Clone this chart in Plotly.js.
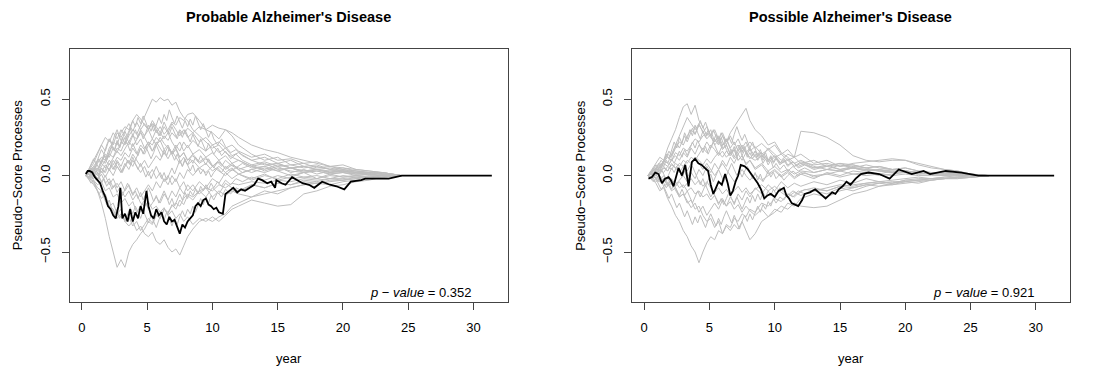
<!DOCTYPE html>
<html>
<head>
<meta charset="utf-8">
<script src="https://cdn.plot.ly/plotly-3.0.1.min.js"></script>
<style>html,body{margin:0;padding:0;background:#fff;}#chart{width:1093px;height:372px;}</style>
</head>
<body>
<div id="chart"></div>
<script>
// ---------- DATA ----------
const panelTitles = ["Probable Alzheimer's Disease", "Possible Alzheimer's Disease"];
const pValueLabels = ["0.352", "0.921"];
const xTickVals = [0, 5, 10, 15, 20, 25, 30];
const yTickVals = [-0.5, 0.0, 0.5];

// Probable AD: time grid of simulated (gray) processes
const probGrayX = [0.3,0.6,0.9,1.2,1.5,1.8,2.1,2.4,2.7,3.0,3.3,3.6,3.9,4.2,4.5,4.8,5.1,5.4,5.7,6.0,6.3,6.6,6.9,7.2,7.5,7.8,8.1,8.5,9.0,9.5,10,10.5,11,11.5,12,13,14,15,16,17,18,19,20,21,22,23,24.5];
const probGray = [
[0,0.03,0.06,0.1,0.08,0.14,0.12,0.18,0.15,0.22,0.2,0.26,0.3,0.27,0.33,0.38,0.44,0.5,0.48,0.51,0.49,0.5,0.46,0.48,0.42,0.38,0.36,0.3,0.26,0.22,0.18,0.2,0.15,0.12,0.1,0.06,0.08,0.04,0.05,0.03,0.04,0.02,0.03,0.02,0.01,0.02,0],
[0,-0.02,-0.05,-0.1,-0.18,-0.28,-0.4,-0.5,-0.6,-0.55,-0.6,-0.5,-0.45,-0.42,-0.38,-0.35,-0.3,-0.32,-0.26,-0.28,-0.22,-0.24,-0.2,-0.18,-0.2,-0.15,-0.12,-0.14,-0.1,-0.08,-0.1,-0.06,-0.08,-0.05,-0.06,-0.04,-0.05,-0.03,-0.04,-0.02,-0.03,-0.02,-0.02,-0.01,-0.01,0,0],
[0,-0.01,-0.04,-0.08,-0.1,-0.15,-0.2,-0.22,-0.28,-0.25,-0.3,-0.33,-0.3,-0.36,-0.33,-0.38,-0.4,-0.37,-0.43,-0.45,-0.42,-0.47,-0.5,-0.48,-0.52,-0.46,-0.4,-0.35,-0.3,-0.28,-0.3,-0.27,-0.25,-0.2,-0.18,-0.14,-0.12,-0.1,-0.08,-0.06,-0.05,-0.04,-0.03,-0.02,-0.01,-0.01,0],
[0,0.02,0,-0.03,0.01,-0.05,-0.02,-0.08,-0.05,-0.1,-0.14,-0.1,-0.16,-0.12,-0.18,-0.2,-0.17,-0.22,-0.2,-0.24,-0.21,-0.26,-0.23,-0.28,-0.25,-0.3,-0.27,-0.32,-0.28,-0.3,-0.27,-0.3,-0.26,-0.22,-0.2,-0.16,-0.18,-0.2,-0.19,-0.12,-0.1,-0.07,-0.06,-0.04,-0.03,-0.01,0],
[0,0.04,0.02,0.08,0.12,0.1,0.18,0.22,0.2,0.28,0.32,0.3,0.36,0.4,0.37,0.33,0.3,0.34,0.28,0.32,0.27,0.3,0.35,0.33,0.38,0.36,0.4,0.41,0.36,0.3,0.28,0.24,0.3,0.26,0.2,0.14,0.1,0.12,0.07,0.08,0.05,0.06,0.04,0.03,0.02,0.02,0],
[0,0.02,0.05,0.03,0.08,0.05,0.1,0.07,0.12,0.1,0.15,0.12,0.18,0.14,0.2,0.17,0.22,0.2,0.25,0.22,0.26,0.23,0.28,0.25,0.3,0.27,0.31,0.28,0.32,0.3,0.33,0.31,0.3,0.28,0.25,0.2,0.17,0.15,0.12,0.1,0.08,0.06,0.05,0.04,0.03,0.02,0],
[0,0.05,0.1,0.15,0.2,0.25,0.22,0.28,0.24,0.3,0.26,0.22,0.27,0.2,0.24,0.18,0.22,0.16,0.2,0.25,0.21,0.18,0.14,0.17,0.12,0.15,0.1,0.13,0.08,0.11,0.06,0.09,0.05,0.08,0.04,0.07,0.03,0.06,0.02,0.04,0.01,0.03,0.02,0.01,0.02,0.01,0],
[0,-0.02,0.03,0,0.05,0.02,0.08,0.04,0.1,0.06,0.12,0.08,0.14,0.1,0.06,0.1,0.05,0.09,0.13,0.1,0.15,0.11,0.16,0.12,0.08,0.12,0.07,0.1,0.05,0.08,0.03,0.06,0.02,0.05,0.01,0.04,0.06,0.03,0.05,0.02,0.04,0.02,0.03,0.01,0.02,0.01,0],
[0,0.01,-0.02,0.02,-0.04,0,-0.06,-0.02,-0.08,-0.04,-0.1,-0.06,-0.12,-0.08,-0.14,-0.1,-0.06,-0.1,-0.04,-0.08,-0.02,-0.06,0,-0.04,0.02,-0.02,0.04,0,0.05,0.02,0.06,0.03,0,0.04,0.01,-0.02,0.01,-0.03,-0.01,0.02,-0.02,0.01,-0.01,0,0.01,0,0],
[0,0.04,0.08,0.14,0.2,0.16,0.24,0.2,0.28,0.25,0.3,0.34,0.29,0.35,0.3,0.26,0.3,0.24,0.2,0.23,0.17,0.2,0.14,0.18,0.12,0.15,0.1,0.14,0.09,0.12,0.06,0.1,0.04,0.07,0.05,0.02,0.05,0.03,0,0.02,0.03,0.01,0.02,0,0.01,0,0],
[0,-0.03,-0.06,-0.1,-0.15,-0.12,-0.2,-0.18,-0.25,-0.22,-0.3,-0.27,-0.33,-0.3,-0.36,-0.32,-0.28,-0.31,-0.25,-0.28,-0.22,-0.25,-0.19,-0.22,-0.16,-0.19,-0.13,-0.16,-0.1,-0.14,-0.08,-0.12,-0.05,-0.08,-0.1,-0.06,-0.08,-0.05,-0.06,-0.03,-0.04,-0.02,-0.03,-0.01,-0.02,0,0],
[0,0.02,0.06,0.04,0.1,0.08,0.14,0.12,0.18,0.16,0.22,0.2,0.26,0.24,0.3,0.34,0.3,0.36,0.32,0.28,0.24,0.28,0.22,0.18,0.22,0.16,0.2,0.14,0.17,0.12,0.15,0.1,0.13,0.08,0.1,0.06,0.04,0.07,0.05,0.03,0.04,0.02,0.03,0.02,0.01,0.01,0],
[0,0.01,-0.03,-0.06,-0.04,-0.1,-0.08,-0.14,-0.12,-0.18,-0.15,-0.2,-0.17,-0.24,-0.2,-0.16,-0.22,-0.18,-0.14,-0.18,-0.12,-0.16,-0.1,-0.14,-0.08,-0.12,-0.06,-0.1,-0.04,-0.08,-0.02,-0.05,0.02,-0.02,0.01,-0.03,0,-0.02,0.01,-0.01,0,-0.02,0,-0.01,0,0,0],
[0,0.03,0,0.05,0.02,0.07,0.04,0.1,0.06,0.02,0.06,0.1,0.06,0.12,0.18,0.14,0.2,0.16,0.22,0.18,0.14,0.19,0.15,0.2,0.16,0.22,0.18,0.23,0.19,0.16,0.2,0.15,0.18,0.13,0.15,0.1,0.12,0.08,0.1,0.06,0.07,0.04,0.05,0.03,0.02,0.01,0],
[0,-0.01,0.02,-0.02,0.03,-0.01,0.04,0,0.06,0.02,0.08,0.04,0.1,0.06,0.02,0.06,0,0.04,-0.02,0.02,-0.04,0,-0.06,-0.02,-0.08,-0.04,-0.1,-0.06,-0.12,-0.08,-0.14,-0.1,-0.13,-0.1,-0.12,-0.14,-0.1,-0.12,-0.08,-0.06,-0.05,-0.06,-0.04,-0.03,-0.02,-0.01,0],
[0,0.02,0.04,0.02,0.06,0.1,0.07,0.12,0.16,0.13,0.18,0.22,0.19,0.24,0.28,0.25,0.2,0.24,0.3,0.26,0.32,0.28,0.34,0.3,0.26,0.3,0.25,0.28,0.22,0.25,0.2,0.22,0.18,0.2,0.16,0.12,0.14,0.1,0.11,0.08,0.09,0.06,0.07,0.04,0.03,0.02,0]
];
// Probable AD: extra simulated processes on a finer time grid
const probFineX = [0.3,0.5,0.7,0.9,1.1,1.3,1.5,1.7,1.9,2.1,2.3,2.5,2.7,2.9,3.1,3.3,3.5,3.7,3.9,4.1,4.3,4.5,4.7,4.9,5.1,5.3,5.5,5.7,5.9,6.1,6.3,6.5,6.7,6.9,7.1,7.3,7.5,7.7,7.9,8.1,8.3,8.5,8.7,8.9,9.1,9.3,9.5,9.7,9.9,10.1,10.4,10.7,11,11.4,11.8,12.3,13,14,15,16,17,18,19,20,21,22,23,24.5];
const probFine = [
[0,0.03,0.01,0.05,0.08,0.05,0.1,0.14,0.11,0.16,0.2,0.17,0.23,0.19,0.25,0.21,0.27,0.31,0.26,0.3,0.25,0.29,0.24,0.28,0.33,0.29,0.34,0.3,0.26,0.3,0.35,0.31,0.27,0.32,0.28,0.24,0.29,0.25,0.3,0.26,0.22,0.27,0.23,0.19,0.24,0.2,0.16,0.21,0.17,0.14,0.18,0.13,0.16,0.11,0.14,0.1,0.07,0.09,0.06,0.07,0.05,0.06,0.04,0.03,0.03,0.02,0.01,0],
[0,-0.02,0.02,-0.01,0.03,0,0.05,0.02,0.06,0.03,0.07,0.04,0.09,0.05,0.02,0.06,0.1,0.07,0.12,0.08,0.04,0.08,0.03,-0.01,0.03,-0.02,0.02,0.06,0.02,-0.02,0.02,-0.03,0.01,0.05,0.01,0.06,0.1,0.06,0.11,0.07,0.03,0.07,0.02,0.05,0.01,0.04,0,0.03,-0.01,0.02,0.05,0.02,0.06,0.03,0.05,0.02,0.04,0.02,0.05,0.03,0.02,0.03,0.01,0.02,0.01,0.01,0,0],
[0,-0.02,-0.05,-0.03,-0.08,-0.12,-0.1,-0.15,-0.19,-0.16,-0.22,-0.26,-0.22,-0.28,-0.24,-0.3,-0.26,-0.21,-0.25,-0.2,-0.24,-0.28,-0.23,-0.27,-0.31,-0.26,-0.3,-0.34,-0.29,-0.25,-0.29,-0.24,-0.28,-0.33,-0.28,-0.32,-0.27,-0.23,-0.27,-0.22,-0.25,-0.2,-0.24,-0.19,-0.15,-0.19,-0.14,-0.18,-0.13,-0.16,-0.11,-0.14,-0.09,-0.12,-0.08,-0.1,-0.06,-0.08,-0.05,-0.06,-0.04,-0.05,-0.03,-0.03,-0.02,-0.01,-0.01,0],
[0,0.02,0.05,0.03,0.07,0.11,0.08,0.13,0.1,0.15,0.19,0.16,0.22,0.18,0.24,0.29,0.25,0.31,0.36,0.32,0.38,0.34,0.39,0.35,0.3,0.34,0.29,0.33,0.38,0.34,0.4,0.36,0.43,0.38,0.34,0.39,0.35,0.31,0.36,0.32,0.37,0.33,0.39,0.35,0.3,0.34,0.29,0.25,0.29,0.24,0.2,0.24,0.19,0.15,0.17,0.13,0.1,0.07,0.08,0.05,0.06,0.04,0.05,0.03,0.02,0.02,0.01,0],
[0,0.01,-0.02,0.01,-0.03,-0.01,-0.05,-0.02,-0.07,-0.04,-0.09,-0.06,-0.11,-0.08,-0.13,-0.09,-0.05,-0.09,-0.13,-0.1,-0.15,-0.11,-0.16,-0.12,-0.08,-0.12,-0.17,-0.13,-0.18,-0.14,-0.1,-0.14,-0.19,-0.15,-0.2,-0.16,-0.12,-0.16,-0.11,-0.15,-0.1,-0.13,-0.09,-0.12,-0.07,-0.1,-0.06,-0.09,-0.05,-0.08,-0.04,-0.07,-0.03,-0.06,-0.02,-0.04,-0.01,-0.03,0,-0.02,-0.01,-0.02,0,-0.01,0,-0.01,0,0],
[0,0.04,0.07,0.11,0.08,0.13,0.17,0.14,0.2,0.24,0.2,0.26,0.3,0.25,0.21,0.25,0.2,0.16,0.21,0.17,0.13,0.18,0.14,0.19,0.15,0.11,0.15,0.2,0.16,0.12,0.17,0.13,0.18,0.14,0.1,0.14,0.1,0.06,0.1,0.07,0.11,0.08,0.12,0.09,0.13,0.1,0.07,0.11,0.08,0.05,0.09,0.06,0.1,0.07,0.05,0.08,0.05,0.06,0.08,0.05,0.06,0.04,0.03,0.04,0.02,0.02,0.01,0]
];
// Probable AD: observed process (black)
const probObsX = [0.3,0.45,0.6,0.8,1.0,1.2,1.4,1.6,1.8,2.0,2.2,2.4,2.6,2.8,2.95,3.1,3.3,3.5,3.7,3.9,4.1,4.3,4.5,4.7,4.95,5.1,5.3,5.5,5.7,5.9,6.1,6.3,6.5,6.7,6.9,7.1,7.3,7.5,7.7,7.9,8.1,8.3,8.5,8.7,8.9,9.1,9.3,9.5,9.7,9.9,10.1,10.3,10.5,10.8,11.0,11.3,11.6,11.9,12.2,12.5,12.9,13.2,13.5,13.8,14.2,14.5,14.8,14.9,15.3,15.6,16.1,16.5,16.9,17.4,17.8,18.4,19.0,19.5,20.1,20.6,21.4,21.7,22.5,23.5,24.5,31.4];
const probObsY = [0.01,0.03,0.03,0.02,-0.01,-0.03,-0.05,-0.1,-0.14,-0.2,-0.22,-0.26,-0.28,-0.2,-0.08,-0.28,-0.25,-0.3,-0.22,-0.3,-0.24,-0.28,-0.2,-0.25,-0.1,-0.2,-0.26,-0.28,-0.22,-0.26,-0.24,-0.3,-0.32,-0.27,-0.3,-0.29,-0.34,-0.38,-0.32,-0.34,-0.3,-0.28,-0.26,-0.2,-0.18,-0.2,-0.16,-0.15,-0.19,-0.2,-0.22,-0.21,-0.24,-0.25,-0.12,-0.1,-0.08,-0.11,-0.09,-0.1,-0.08,-0.06,-0.02,-0.03,-0.05,-0.04,-0.08,-0.03,-0.05,-0.06,-0.01,-0.03,-0.05,-0.06,-0.08,-0.04,-0.06,-0.07,-0.09,-0.04,-0.03,-0.02,-0.02,-0.02,0,0];

// Possible AD: time grid of simulated (gray) processes
const possGrayX = [0.3,0.6,0.9,1.2,1.5,1.8,2.1,2.4,2.7,3.0,3.3,3.6,3.9,4.2,4.5,4.8,5.1,5.4,5.7,6.0,6.3,6.6,6.9,7.2,7.5,7.8,8.1,8.5,9.0,9.5,10,10.5,11,11.5,12,13,14,15,16,17,18,19,20,21,22,23,24,25,26.4];
const possGray = [
[0,0.04,0.08,0.12,0.1,0.18,0.24,0.3,0.38,0.45,0.47,0.4,0.46,0.36,0.32,0.26,0.3,0.22,0.25,0.18,0.2,0.14,0.17,0.1,0.13,0.08,0.1,0.05,0.08,0.03,0.06,0.02,0.04,0.01,0.03,0.02,0.04,0.03,0.05,0.04,0.03,0.02,0.03,0.02,0.01,0.02,0.01,0.01,0],
[0,0.02,0.05,0.03,0.08,0.06,0.1,0.13,0.1,0.15,0.12,0.18,0.14,0.2,0.17,0.22,0.18,0.24,0.2,0.26,0.22,0.28,0.32,0.36,0.4,0.44,0.36,0.3,0.26,0.2,0.22,0.15,0.12,0.08,0.1,0.06,0.04,0.07,0.05,0.03,0.04,0.02,0.03,0.02,0.01,0.02,0.01,0,0],
[0,-0.02,0.01,-0.03,0,-0.05,-0.02,-0.06,-0.03,0,-0.04,0.02,-0.02,0.04,0,0.06,0.02,0.08,0.04,0.1,0.06,0.12,0.08,0.14,0.1,0.15,0.11,0.16,0.12,0.18,0.14,0.1,0.14,0.12,0.29,0.28,0.25,0.2,0.13,0.1,0.09,0.1,0.1,0.08,0.06,0.04,0.03,0.01,0],
[0,-0.02,-0.05,-0.1,-0.08,-0.15,-0.2,-0.26,-0.3,-0.36,-0.4,-0.46,-0.5,-0.57,-0.5,-0.44,-0.4,-0.42,-0.36,-0.38,-0.32,-0.34,-0.28,-0.3,-0.25,-0.27,-0.22,-0.24,-0.18,-0.2,-0.15,-0.17,-0.12,-0.14,-0.1,-0.08,-0.1,-0.07,-0.06,-0.05,-0.04,-0.05,-0.03,-0.02,-0.02,-0.01,-0.01,0,0],
[0,-0.01,-0.04,-0.02,-0.07,-0.05,-0.1,-0.08,-0.14,-0.12,-0.18,-0.16,-0.22,-0.2,-0.26,-0.3,-0.28,-0.34,-0.3,-0.38,-0.33,-0.36,-0.32,-0.35,-0.3,-0.36,-0.42,-0.38,-0.3,-0.27,-0.22,-0.24,-0.18,-0.2,-0.15,-0.12,-0.14,-0.1,-0.08,-0.06,-0.07,-0.05,-0.04,-0.03,-0.03,-0.02,-0.01,-0.01,0],
[0,0.01,-0.02,0,-0.04,-0.02,-0.06,-0.04,-0.08,-0.06,-0.1,-0.08,-0.12,-0.1,-0.14,-0.12,-0.16,-0.13,-0.18,-0.15,-0.2,-0.17,-0.22,-0.19,-0.24,-0.2,-0.23,-0.26,-0.22,-0.27,-0.24,-0.2,-0.22,-0.18,-0.2,-0.21,-0.2,-0.16,-0.12,-0.1,-0.07,-0.06,-0.05,-0.04,-0.03,-0.02,-0.02,-0.01,0],
[0,0.03,0.06,0.04,0.09,0.12,0.1,0.15,0.13,0.18,0.16,0.2,0.24,0.22,0.26,0.28,0.25,0.22,0.26,0.2,0.24,0.18,0.22,0.16,0.2,0.15,0.18,0.12,0.15,0.1,0.13,0.08,0.11,0.06,0.08,0.05,0.07,0.04,0.06,0.05,0.03,0.04,0.03,0.02,0.02,0.01,0.01,0,0],
[0,0.02,0,0.04,0.02,0.06,0.04,0.08,0.06,0.1,0.08,0.12,0.1,0.14,0.18,0.15,0.2,0.17,0.13,0.16,0.12,0.15,0.11,0.14,0.18,0.15,0.12,0.1,0.13,0.09,0.12,0.08,0.1,0.06,0.09,0.07,0.08,0.06,0.08,0.09,0.1,0.11,0.1,0.07,0.05,0.04,0.03,0.01,0],
[0,-0.02,0.01,-0.04,-0.02,-0.07,-0.05,-0.1,-0.14,-0.12,-0.17,-0.21,-0.18,-0.24,-0.2,-0.26,-0.22,-0.18,-0.22,-0.16,-0.2,-0.14,-0.18,-0.12,-0.16,-0.1,-0.14,-0.08,-0.12,-0.06,-0.1,-0.04,-0.08,-0.05,-0.07,-0.04,-0.06,-0.03,-0.05,-0.02,-0.04,-0.03,-0.02,-0.01,-0.02,-0.01,0,0,0],
[0,0.03,0.07,0.05,0.1,0.14,0.12,0.18,0.22,0.2,0.26,0.3,0.27,0.33,0.29,0.24,0.27,0.2,0.23,0.17,0.2,0.14,0.17,0.1,0.13,0.07,0.1,0.04,0.07,0.01,0.04,0,0.03,-0.01,0.02,0,0.01,-0.01,0.01,0,0.01,0,0.01,0,0,0,0,0,0],
[0,0.01,0.03,0.01,0.05,0.03,0.07,0.05,0.08,0.06,0.1,0.08,0.12,0.1,0.07,0.11,0.08,0.12,0.15,0.12,0.16,0.13,0.17,0.2,0.16,0.19,0.22,0.18,0.21,0.17,0.2,0.14,0.17,0.12,0.14,0.08,0.1,0.06,0.07,0.05,0.06,0.04,0.05,0.03,0.02,0.02,0.01,0,0],
[0,-0.02,-0.01,-0.04,-0.02,-0.06,-0.03,-0.07,-0.04,-0.08,-0.05,-0.02,-0.06,-0.03,-0.07,-0.04,-0.08,-0.11,-0.08,-0.12,-0.09,-0.13,-0.1,-0.07,-0.11,-0.08,-0.12,-0.09,-0.06,-0.1,-0.07,-0.11,-0.14,-0.11,-0.13,-0.1,-0.12,-0.08,-0.1,-0.07,-0.05,-0.06,-0.04,-0.05,-0.03,-0.02,-0.02,-0.01,0],
[0,0.02,0.05,0.02,0.06,0.03,0.08,0.05,0.02,0.06,0.03,0.08,0.12,0.08,0.04,0.08,0.04,0,0.04,0.08,0.04,0,-0.04,0,0.04,0,-0.03,0.01,-0.03,0,0.03,-0.01,0.02,-0.02,0.01,-0.02,0.02,0,0.03,0.02,0.01,0.03,0.02,0.01,0.02,0.01,0.01,0,0],
[0,0.03,0.01,0.06,0.1,0.08,0.14,0.2,0.26,0.32,0.38,0.34,0.3,0.34,0.28,0.32,0.26,0.3,0.24,0.28,0.22,0.26,0.2,0.24,0.18,0.22,0.16,0.19,0.14,0.17,0.12,0.14,0.1,0.12,0.08,0.1,0.06,0.08,0.05,0.07,0.05,0.04,0.03,0.02,0.02,0.01,0.01,0,0]
];
// Possible AD: extra simulated processes on a finer time grid
const possFineX = [0.3,0.5,0.7,0.9,1.1,1.3,1.5,1.7,1.9,2.1,2.3,2.5,2.7,2.9,3.1,3.3,3.5,3.7,3.9,4.1,4.3,4.5,4.7,4.9,5.1,5.3,5.5,5.7,5.9,6.1,6.3,6.5,6.7,6.9,7.1,7.3,7.5,7.7,7.9,8.1,8.3,8.5,8.7,8.9,9.1,9.3,9.5,9.7,9.9,10.1,10.4,10.7,11,11.4,11.8,12.3,13,14,15,16,17,18,19,20,21,22,23,24,25,26.4];
const possFine = [
[0,0.03,0.01,0.05,0.08,0.05,0.1,0.14,0.11,0.17,0.22,0.18,0.25,0.21,0.28,0.24,0.3,0.26,0.33,0.28,0.24,0.29,0.25,0.3,0.26,0.22,0.27,0.23,0.28,0.24,0.2,0.25,0.21,0.27,0.32,0.27,0.23,0.27,0.22,0.18,0.22,0.17,0.13,0.17,0.12,0.15,0.1,0.13,0.09,0.12,0.08,0.11,0.07,0.09,0.06,0.08,0.05,0.06,0.04,0.05,0.03,0.04,0.03,0.02,0.02,0.01,0.01,0.01,0,0],
[0,0.02,-0.01,0.03,0,0.04,0.01,-0.03,0.01,0.05,0.02,0.06,0.03,-0.01,0.03,-0.02,0.02,0.06,0.02,-0.02,-0.06,-0.02,-0.07,-0.03,0.01,-0.04,0,0.04,0,-0.04,0,0.04,0.08,0.04,0,0.03,-0.01,0.03,0.06,0.02,-0.02,0.02,-0.03,0.01,-0.04,-0.01,0.03,-0.01,0.02,-0.02,0.01,-0.03,0,0.03,0,0.02,-0.01,0.01,0.03,0.01,0.02,0,0.01,0.02,0.01,0.01,0,0.01,0,0],
[0,-0.02,-0.04,-0.02,-0.06,-0.09,-0.07,-0.11,-0.15,-0.12,-0.17,-0.21,-0.18,-0.23,-0.27,-0.23,-0.28,-0.32,-0.27,-0.31,-0.26,-0.3,-0.34,-0.29,-0.25,-0.29,-0.33,-0.28,-0.32,-0.27,-0.23,-0.27,-0.31,-0.26,-0.3,-0.35,-0.3,-0.26,-0.3,-0.25,-0.29,-0.24,-0.2,-0.24,-0.19,-0.22,-0.17,-0.2,-0.15,-0.18,-0.14,-0.16,-0.12,-0.14,-0.1,-0.12,-0.09,-0.1,-0.07,-0.08,-0.06,-0.05,-0.04,-0.04,-0.03,-0.02,-0.02,-0.01,-0.01,0],
[0,0.01,0.04,0.02,0.05,0.08,0.06,0.1,0.07,0.11,0.08,0.12,0.16,0.12,0.17,0.13,0.18,0.22,0.18,0.23,0.19,0.15,0.19,0.14,0.18,0.22,0.18,0.14,0.18,0.21,0.17,0.13,0.17,0.12,0.16,0.2,0.15,0.19,0.14,0.18,0.13,0.16,0.12,0.15,0.1,0.13,0.09,0.12,0.08,0.11,0.07,0.1,0.06,0.09,0.05,0.07,0.04,0.06,0.08,0.07,0.05,0.06,0.04,0.05,0.03,0.02,0.02,0.01,0.01,0],
[0,-0.01,0.01,-0.02,-0.04,-0.02,-0.05,-0.08,-0.05,-0.09,-0.06,-0.1,-0.13,-0.09,-0.13,-0.1,-0.14,-0.18,-0.14,-0.1,-0.14,-0.1,-0.06,-0.1,-0.14,-0.11,-0.15,-0.19,-0.15,-0.19,-0.15,-0.11,-0.15,-0.19,-0.14,-0.18,-0.22,-0.18,-0.14,-0.18,-0.13,-0.17,-0.12,-0.16,-0.11,-0.14,-0.1,-0.13,-0.09,-0.12,-0.08,-0.11,-0.13,-0.1,-0.12,-0.09,-0.1,-0.08,-0.06,-0.07,-0.05,-0.04,-0.05,-0.03,-0.03,-0.02,-0.02,-0.01,-0.01,0],
[0,0.02,0.05,0.03,0.07,0.1,0.08,0.12,0.16,0.13,0.17,0.21,0.18,0.22,0.26,0.22,0.27,0.31,0.27,0.32,0.36,0.31,0.35,0.3,0.26,0.3,0.25,0.21,0.25,0.2,0.24,0.19,0.15,0.19,0.14,0.18,0.13,0.17,0.12,0.15,0.11,0.14,0.1,0.13,0.08,0.11,0.07,0.1,0.05,0.08,0.04,0.07,0.03,0.06,0.03,0.05,0.02,0.04,0.03,0.05,0.04,0.03,0.02,0.03,0.02,0.01,0.01,0.01,0,0]
];
// Possible AD: observed process (black)
const possObsX = [0.33,0.6,0.85,1.1,1.36,1.6,1.87,2.05,2.25,2.45,2.63,2.9,3.15,3.4,3.66,3.9,4.15,4.4,4.65,4.9,5.1,5.3,5.5,5.7,5.95,6.2,6.4,6.6,6.8,7.0,7.2,7.4,7.7,7.95,8.2,8.45,8.7,8.95,9.2,9.45,9.7,10.0,10.3,10.7,10.9,11.1,11.3,11.55,11.8,12.1,12.3,12.7,13.1,13.5,13.9,14.15,14.4,14.65,14.9,15.2,15.5,15.8,16.2,16.6,17.2,18.0,18.8,19.5,20.5,21.4,21.9,23.1,24.3,25.6,26.4,31.4];
const possObsY = [-0.02,-0.01,0.02,0.01,-0.05,-0.02,-0.01,-0.03,-0.07,0.0,0.05,0.0,0.07,-0.07,0.09,0.11,0.08,0.07,0.05,0.03,-0.06,-0.12,-0.08,-0.04,-0.06,0.01,-0.05,-0.13,-0.1,-0.04,0.0,0.07,0.06,0.04,0.01,-0.02,-0.05,-0.09,-0.15,-0.13,-0.12,-0.14,-0.1,-0.08,-0.13,-0.15,-0.18,-0.19,-0.2,-0.16,-0.12,-0.11,-0.09,-0.12,-0.15,-0.13,-0.11,-0.12,-0.09,-0.07,-0.04,-0.06,-0.02,0.01,0.02,0.01,-0.02,0.04,0.01,0.03,0.01,0.03,0.02,0.0,0.0,0.0];

// ---------- CHART ----------
const W = 1093, H = 372;
const FONT = "Liberation Sans, Arial, Helvetica, sans-serif";
const GRAY = "#bebebe";
const AXC = "#444444";

const traces = [];
function addGray(gx, grays, xa, ya) {
  grays.forEach(g => traces.push({
    type: "scatter", mode: "lines", x: gx, y: g, xaxis: xa, yaxis: ya,
    line: {color: GRAY, width: 1}, hoverinfo: "skip", showlegend: false
  }));
}
function addObs(ox, oy, xa, ya) {
  traces.push({
    type: "scatter", mode: "lines", x: ox, y: oy, xaxis: xa, yaxis: ya,
    line: {color: "#000000", width: 1.8}, hoverinfo: "skip", showlegend: false
  });
}
addGray(probGrayX, probGray, "x", "y");
addGray(probFineX, probFine, "x", "y");
addObs(probObsX, probObsY, "x", "y");
addGray(possGrayX, possGray, "x2", "y2");
addGray(possFineX, possFine, "x2", "y2");
addObs(possObsX, possObsY, "x2", "y2");

const px = v => v / W;
const py = v => 1 - v / H;
const plotTop = 49.3, plotBot = 301.7;
const panels = [[69.7, 507.5], [632.0, 1069.8]];

function xAxis(dom, anchor) {
  return {
    domain: [px(dom[0]), px(dom[1])], anchor: anchor,
    range: [-0.93, 32.6], tickvals: xTickVals, ticktext: xTickVals.map(String),
    ticks: "outside", ticklen: 7, tickwidth: 1, tickcolor: AXC,
    showline: true, mirror: true, linecolor: AXC, linewidth: 1,
    showgrid: false, zeroline: false, ticklabelstandoff: 7,
    tickfont: {family: FONT, size: 13, color: "#000"}
  };
}
function yAxis(anchor) {
  return {
    domain: [py(plotBot), py(plotTop)], anchor: anchor,
    range: [-0.825, 0.826], tickvals: yTickVals, ticktext: ["\u22120.5", "0.0", "0.5"],
    tickangle: -90,
    ticks: "outside", ticklen: 7, tickwidth: 1, tickcolor: AXC,
    showline: true, mirror: true, linecolor: AXC, linewidth: 1,
    showgrid: false, zeroline: false, ticklabelstandoff: 7,
    tickfont: {family: FONT, size: 13, color: "#000"}
  };
}

const annotations = [];
panels.forEach((p, i) => {
  const cx = (p[0] + p[1]) / 2;
  annotations.push({xref: "paper", yref: "paper", x: px(cx), y: py(17), text: "<b>" + panelTitles[i] + "</b>",
    showarrow: false, xanchor: "center", yanchor: "middle", font: {family: FONT, size: 14.5, color: "#000"}});
  annotations.push({xref: "paper", yref: "paper", x: px(cx), y: py(358), text: "year",
    showarrow: false, xanchor: "center", yanchor: "middle", font: {family: FONT, size: 13, color: "#000"}});
  annotations.push({xref: "paper", yref: "paper", x: px(i === 0 ? 17.7 : 580.3), y: py((plotTop + plotBot) / 2),
    text: "Pseudo\u2212Score Processes", textangle: -90,
    showarrow: false, xanchor: "center", yanchor: "middle", font: {family: FONT, size: 13, color: "#000"}});
  annotations.push({xref: i === 0 ? "x" : "x2", yref: i === 0 ? "y" : "y2", x: 26.0, y: -0.762,
    text: "<i>p</i> \u2212 <i>value</i> = " + pValueLabels[i],
    showarrow: false, xanchor: "center", yanchor: "middle", font: {family: FONT, size: 13, color: "#000"}});
});

const layout = {
  width: W, height: H, margin: {l: 0, r: 0, t: 0, b: 0},
  paper_bgcolor: "#fff", plot_bgcolor: "#fff", showlegend: false,
  xaxis: xAxis(panels[0], "y"), yaxis: yAxis("x"),
  xaxis2: xAxis(panels[1], "y2"), yaxis2: yAxis("x2"),
  annotations: annotations
};

Plotly.newPlot("chart", traces, layout, {staticPlot: true, displayModeBar: false});
</script>
</body>
</html>
